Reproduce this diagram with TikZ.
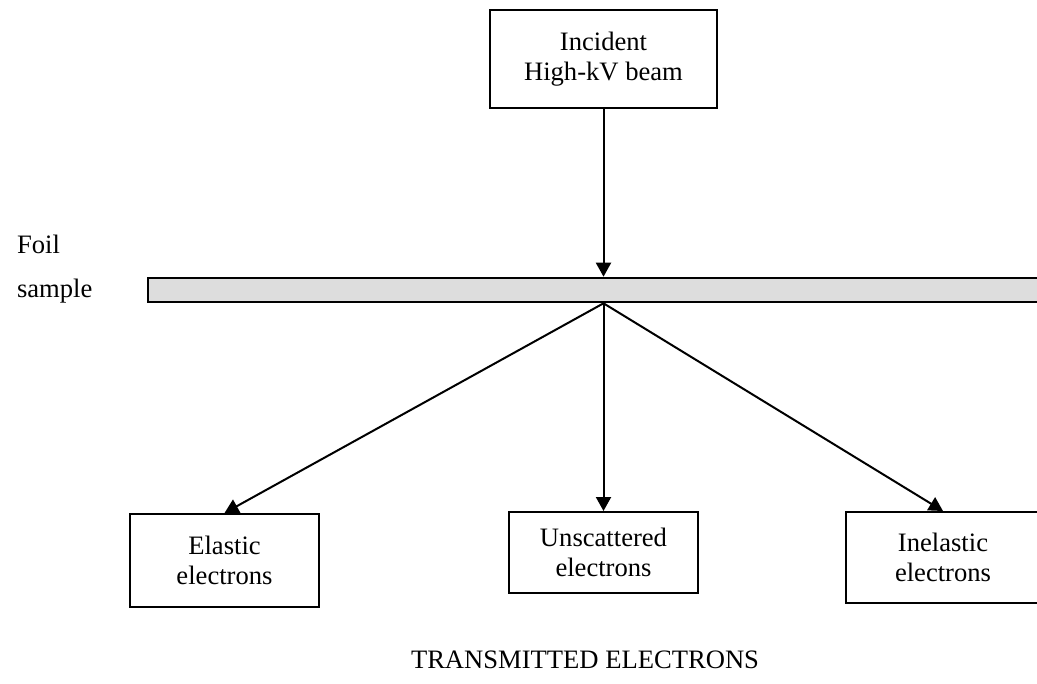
\documentclass[tikz,border=0pt]{standalone}
\usepackage{fontspec}
\setmainfont{Liberation Serif}
\usetikzlibrary{arrows.meta}
\tikzset{font={\fontsize{13.3pt}{15.3pt}\selectfont}}

\begin{document}
\begin{tikzpicture}[x=0.5pt, y=-0.5pt,
        box/.style={draw, line width=1pt, minimum width=94.5pt, align=center, inner sep=0pt},
        ray/.style={-{Triangle[length=7pt,width=7.5pt]}, line width=1pt}]
                \clip (0,0) rectangle (1037,684);
                \node (beam) [box, minimum width=113.5pt, minimum height=49pt] at (603.5,59) {Incident\\High-kV beam};
                \node (foil) [draw, line width=1.3pt, fill=gray!27, minimum width=448.5pt, minimum height=12pt, inner sep=0pt] at (596.5,290) {};
                \node (foiltxt) [anchor=west] at (10,244) {Foil};
                \node (sampletxt) [anchor=west] at (10,291) {sample};
                \coordinate (hit) at (beam.south |- foil.north);
                \coordinate (spot) at (beam.south |- foil.south);
                \node (elastic) [box, minimum height=46.5pt] at (224.5,560.5) {Elastic\\electrons};
                \node (unscat) [box, minimum height=40.5pt] at (603.5,552.5) {Unscattered\\electrons};
                \node (inelastic) [box, minimum width=97pt, minimum height=45.5pt] at (943,557.5) {Inelastic\\electrons};
                \node (title) at (585,660) {TRANSMITTED ELECTRONS};
                \draw[ray] (beam) -- (hit);
                \draw[ray] (spot) -- (elastic.north);
                \draw[ray] (spot) -- (unscat.north);
                \draw[ray] (spot) -- (inelastic.north);
            \end{tikzpicture}
\end{document}
